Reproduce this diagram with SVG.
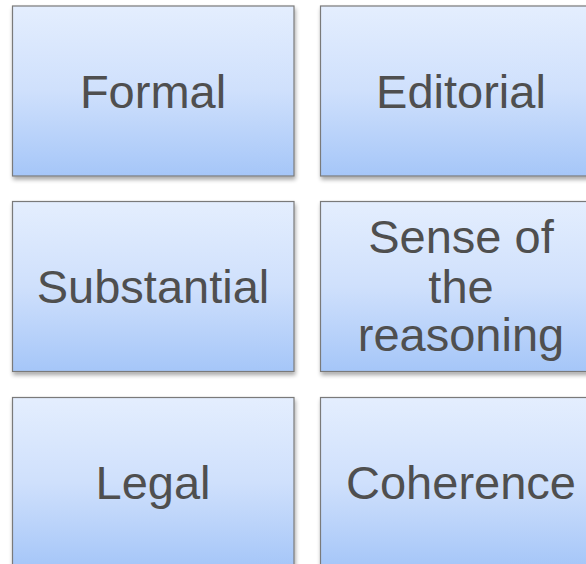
<svg xmlns="http://www.w3.org/2000/svg" width="586" height="564" viewBox="0 0 586 564">
<defs>
<linearGradient id="g" x1="0" y1="0" x2="0" y2="1">
<stop offset="0" stop-color="#e4eefe"/>
<stop offset="0.5" stop-color="#cfe0fc"/>
<stop offset="1" stop-color="#a5c6f8"/>
</linearGradient>
<filter id="sh" x="-10%" y="-10%" width="130%" height="130%">
<feGaussianBlur in="SourceAlpha" stdDeviation="2"/>
<feOffset dx="1" dy="3" result="b"/>
<feComponentTransfer><feFuncA type="linear" slope="0.35"/></feComponentTransfer>
<feMerge><feMergeNode/><feMergeNode in="SourceGraphic"/></feMerge>
</filter>
<style>
.box{fill:url(#g);stroke:#7a7a7a;stroke-width:1.2;filter:url(#sh)}
.t{font-family:"Liberation Sans",Arial,sans-serif;font-size:47px;fill:#4f4f4f;text-anchor:middle}
</style>
</defs>
<rect width="586" height="564" fill="#ffffff"/>
<g id="connectors"/>
<g id="formal"><rect class="box" x="12.5" y="6" width="281.5" height="170"/><text class="t" x="153" y="108">Formal</text></g>
<g id="editorial"><rect class="box" x="320.5" y="6" width="281.5" height="170"/><text class="t" x="461" y="108">Editorial</text></g>
<g id="substantial"><rect class="box" x="12.5" y="201.5" width="281.5" height="170"/><text class="t" x="153" y="303">Substantial</text></g>
<g id="sense"><rect class="box" x="320.5" y="201.5" width="281.5" height="170"/><text class="t" x="461" y="252.5">Sense of</text><text class="t" x="461" y="302.5">the</text><text class="t" x="461" y="351">reasoning</text></g>
<g id="legal"><rect class="box" x="12.5" y="397.5" width="281.5" height="170"/><text class="t" x="153" y="499">Legal</text></g>
<g id="coherence"><rect class="box" x="320.5" y="397.5" width="281.5" height="170"/><text class="t" x="461" y="499">Coherence</text></g>
</svg>
